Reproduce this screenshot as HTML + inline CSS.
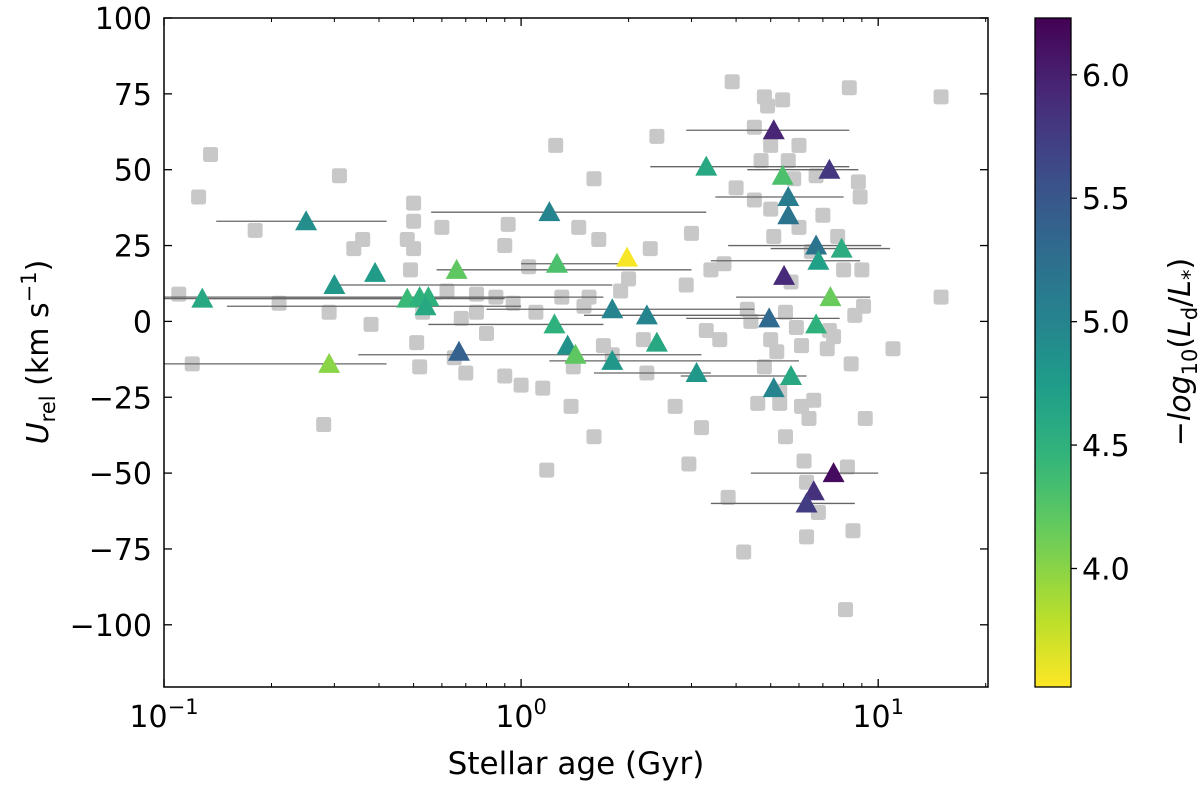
<!DOCTYPE html>
<html><head><meta charset="utf-8"><style>
body{margin:0;background:#fff;}
svg text{font-family:"DejaVu Sans","Liberation Sans",sans-serif;fill:#000;}
</style></head><body>
<svg id="chart" width="1200" height="785" viewBox="0 0 1200 785" xmlns="http://www.w3.org/2000/svg">
<defs><linearGradient id="vg" x1="0" y1="1" x2="0" y2="0"></linearGradient></defs>
<g id="grayLayer"></g><g id="errLayer"></g><g id="triLayer"></g><g id="axLayer"></g>
</svg>
<script>
const grayAge=[0.11,0.12,0.125,0.135,0.18,0.21,0.28,0.29,0.31,0.34,0.36,0.38,0.48,0.49,0.5,0.5,0.5,0.51,0.52,0.53,0.6,0.62,0.65,0.68,0.7,0.75,0.75,0.8,0.85,0.9,0.9,0.92,0.95,1.0,1.05,1.1,1.15,1.18,1.25,1.3,1.38,1.4,1.45,1.5,1.55,1.6,1.6,1.65,1.7,1.8,1.9,2.0,2.2,2.25,2.3,2.4,2.7,2.9,2.95,3.0,3.2,3.3,3.4,3.6,3.7,3.8,3.9,4.0,4.2,4.3,4.4,4.5,4.5,4.6,4.7,4.8,4.8,4.9,5.0,5.0,5.0,5.1,5.2,5.3,5.3,5.4,5.5,5.5,5.6,5.7,5.8,5.9,6.0,6.0,6.1,6.1,6.2,6.3,6.3,6.4,6.5,6.6,6.7,6.8,7.0,7.2,7.3,7.5,7.7,8.0,8.1,8.2,8.3,8.4,8.5,8.6,8.8,8.9,9.0,9.2,9.1,11,15,15];
const grayU=[9,-14,41,55,30,6,-34,3,48,24,27,-1,27,17,39,33,24,-7,-15,3,31,10,-12,1,-17,9,3,-4,8,-18,25,32,6,-21,18,3,-22,-49,58,8,-28,-15,31,5,8,-38,47,27,-8,-11,10,14,-6,-17,24,61,-28,12,-47,29,-35,-3,17,-6,19,-58,79,44,-76,4,0,64,40,-27,53,74,-15,71,58,37,-6,28,-10,-23,-27,73,3,-38,53,13,47,-2,58,31,-8,-28,-46,-71,-53,-32,23,-26,48,-63,35,-9,-3,-5,28,17,-95,-48,77,-14,-69,2,46,41,17,-32,5,-9,74,8];
const triAge=[0.128,0.25,0.3,0.39,0.48,0.52,0.55,0.54,0.29,0.67,0.66,1.2,1.26,1.24,1.35,1.42,1.98,1.8,1.8,2.25,2.4,3.3,3.1,5.1,5.4,5.6,5.6,7.3,6.7,5.45,6.8,7.9,7.35,6.7,4.95,5.1,5.7,7.5,6.6,6.3];
const triU=[7.5,33,12,16,7.5,8,8,5,-14,-10,17,36,19,-1,-8,-11,21,4,-13,2,-7,51,-17,63,48,41,35,50,25,15,20,24,8,-1,1,-22,-18,-50,-56,-60];
const triC=[4.6,4.9,4.8,4.75,4.4,4.5,4.5,4.6,4.0,5.4,4.2,5.0,4.3,4.5,4.85,4.2,3.55,5.0,4.8,5.0,4.6,4.6,4.8,5.95,4.3,5.1,5.2,5.8,5.2,5.9,4.7,4.55,4.15,4.5,5.3,5.0,4.6,6.15,5.85,5.75];
const errLo=[0.1,0.14,0.3,null,0.13,0.1,0.2,0.15,0.1,null,0.58,0.56,1.0,0.55,null,0.35,null,0.8,1.2,1.5,null,2.3,1.6,2.9,null,3.5,null,4.3,3.8,null,3.4,5.0,4.0,null,2.9,null,2.8,4.4,null,3.4];
const errHi=[0.6,0.42,1.8,null,0.9,1.7,1.3,1.0,0.42,null,3.0,3.3,2.0,1.7,null,3.2,null,4.5,6.0,5.0,null,8.3,3.4,8.3,null,8.0,null,8.8,10.2,null,8.9,10.8,9.5,null,7.8,null,6.3,10.0,null,8.6];
const yTicks=[100,75,50,25,0,-25,-50,-75,-100];
const cTicks=[6.0,5.5,5.0,4.5,4.0];

const X0=164,X1=988,Y0=18,Y1=687;
const xMin=Math.log10(0.1),xMax=Math.log10(20.3);
const yMin=-120.5,yMax=100;
const cMin=3.52,cMax=6.23;
const sx=a=>X0+(Math.log10(a)-xMin)/(xMax-xMin)*(X1-X0);
const sy=u=>Y1-(u-yMin)/(yMax-yMin)*(Y1-Y0);
const CB0=1035,CB1=1071;
const sc=c=>Y1-(c-cMin)/(cMax-cMin)*(Y1-Y0);
const vir=[[68,1,84],[72,40,120],[62,74,137],[49,104,142],[38,130,142],[31,158,137],[53,183,121],[109,205,89],[180,222,44],[253,231,37]];
function col(c){let t=(cMax-c)/(cMax-cMin);t=Math.max(0,Math.min(1,t));const p=t*(vir.length-1),i=Math.min(Math.floor(p),vir.length-2),f=p-i;
const r=vir[i].map((v,k)=>Math.round(v+(vir[i+1][k]-v)*f));return `rgb(${r})`;}
const NS="http://www.w3.org/2000/svg";
function mk(t,a,p){const e=document.createElementNS(NS,t);for(const k in a)e.setAttribute(k,a[k]);p.appendChild(e);return e;}
const gL=document.getElementById('grayLayer'),eL=document.getElementById('errLayer'),tL=document.getElementById('triLayer'),aL=document.getElementById('axLayer');
grayAge.forEach((a,i)=>{const x=sx(a),y=sy(grayU[i]);
const r=mk('rect',{x:x-7.5,y:y-7.5,width:15,height:15,rx:2.5,fill:'#c8c8c8'},gL);

});
triAge.forEach((a,i)=>{if(errLo[i]==null)return;const y=sy(triU[i]);
const l=mk('line',{x1:sx(errLo[i]),x2:sx(errHi[i]),y1:y,y2:y,stroke:'#666','stroke-width':1.3},eL);

});
triAge.forEach((a,i)=>{const x=sx(a),y=sy(triU[i]);
const p=mk('polygon',{points:`${x},${y-11} ${x-11},${y+9} ${x+11},${y+9}`,fill:col(triC[i])},tL);

});
const fr=mk('rect',{x:X0,y:Y0,width:X1-X0,height:Y1-Y0,fill:'none',stroke:'#000','stroke-width':1.5},aL);


yTicks.forEach(v=>{const y=sy(v);
mk('line',{x1:X0,x2:X0+8,y1:y,y2:y,stroke:'#000','stroke-width':1.3},aL);
mk('line',{x1:X1,x2:X1-8,y1:y,y2:y,stroke:'#000','stroke-width':1.3},aL);
const t=mk('text',{x:X0-12,y:y+11,'text-anchor':'end','font-size':30},aL);t.textContent=v<0?'\u2212'+(-v):v;

});
[0.1,1,10].forEach((v,k)=>{const x=sx(v);
mk('line',{x1:x,x2:x,y1:Y1,y2:Y1-8,stroke:'#000','stroke-width':1.3},aL);
mk('line',{x1:x,x2:x,y1:Y0,y2:Y0+8,stroke:'#000','stroke-width':1.3},aL);
const t=mk('text',{x:x,y:Y1+40,'text-anchor':'middle','font-size':30},aL);
t.innerHTML='10<tspan font-size="21" dy="-13">'+['\u22121','0','1'][k]+'</tspan>';

});
for(let d=0.1;d<20;d*=10)for(let m=2;m<10;m++){const v=d*m;if(v>20.3)break;const x=sx(v);
mk('line',{x1:x,x2:x,y1:Y1,y2:Y1-4,stroke:'#000','stroke-width':1},aL);
mk('line',{x1:x,x2:x,y1:Y0,y2:Y0+4,stroke:'#000','stroke-width':1},aL);}
const xl=mk('text',{x:576,y:774,'text-anchor':'middle','font-size':31},aL);xl.textContent='Stellar age (Gyr)';

const yl=mk('text',{transform:'translate(48,352) rotate(-90)','text-anchor':'middle','font-size':30},aL);
yl.innerHTML='<tspan font-style="italic">U</tspan><tspan font-size="21" dy="7">rel</tspan><tspan dy="-7"> (km s</tspan><tspan font-size="21" dy="-12">\u22121</tspan><tspan dy="12">)</tspan>';

const g=document.getElementById('vg');
for(let i=0;i<=20;i++){const c=cMin+(cMax-cMin)*i/20;mk('stop',{offset:(i/20),'stop-color':col(c)},g);}
const cb=mk('rect',{x:CB0,y:Y0,width:CB1-CB0,height:Y1-Y0,fill:'url(#vg)',stroke:'#000','stroke-width':1.3},aL);

cTicks.forEach(v=>{const y=sc(v);
mk('line',{x1:CB1,x2:CB1+6,y1:y,y2:y,stroke:'#000','stroke-width':1.3},aL);
const t=mk('text',{x:CB1+11,y:y+11,'font-size':30},aL);t.textContent=v.toFixed(1);
});
const cl=mk('text',{transform:'translate(1190,352) rotate(-90)','text-anchor':'middle','font-size':30},aL);
cl.innerHTML='\u2212<tspan font-style="italic">log</tspan><tspan font-size="21" dy="7">10</tspan><tspan dy="-7">(</tspan><tspan font-style="italic">L</tspan><tspan font-size="21" dy="7">d</tspan><tspan dy="-7">/</tspan><tspan font-style="italic">L</tspan><tspan font-size="21" dy="7">*</tspan><tspan dy="-7">)</tspan>';

</script>
</body></html>
